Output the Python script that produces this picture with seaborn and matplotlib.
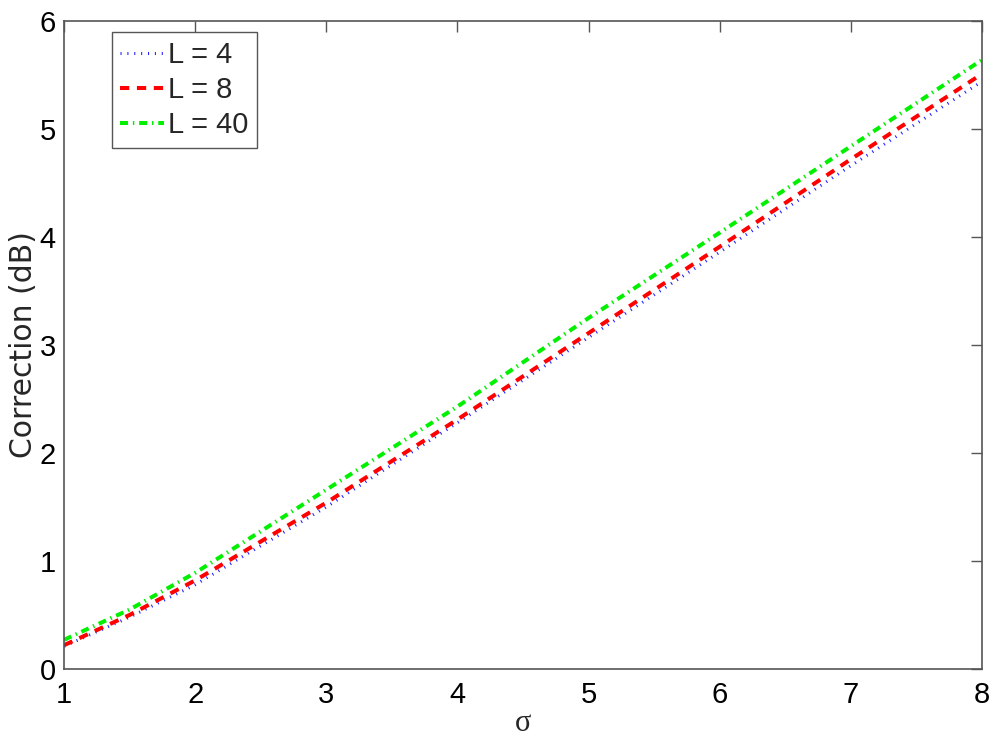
import matplotlib
matplotlib.use("Agg")
import matplotlib.pyplot as plt
import seaborn as sns
import numpy as np

sigma = [1.0, 1.5, 2.0, 3.0, 4.0, 5.0, 6.0, 7.0, 8.0]
corr_L4 = [0.21, 0.48, 0.78, 1.50, 2.28, 3.07, 3.86, 4.66, 5.44]
corr_L8 = [0.22, 0.50, 0.82, 1.54, 2.31, 3.11, 3.91, 4.72, 5.51]
corr_L40 = [0.27, 0.55, 0.89, 1.66, 2.43, 3.25, 4.04, 4.84, 5.64]
labels = ["L = 4", "L = 8", "L = 40"]
x_ticks = [1, 2, 3, 4, 5, 6, 7, 8]
y_ticks = [0, 1, 2, 3, 4, 5, 6]

sns.set_style("white")
plt.rcParams['font.family'] = ['Liberation Sans', 'DejaVu Sans']

fig = plt.figure(figsize=(10, 7.37), dpi=100)
ax = fig.add_axes([0.064, 0.0923, 0.918, 0.8792])

sns.lineplot(x=sigma, y=corr_L4, ax=ax, color='#2222ff', lw=2.2,
             linestyle=(0, (0.35, 1.9)), label=labels[0])
sns.lineplot(x=sigma, y=corr_L8, ax=ax, color='#ff0000', lw=2.9,
             linestyle=(0, (2.3, 1.9)), label=labels[1])
sns.lineplot(x=sigma, y=corr_L40, ax=ax, color='#00f000', lw=2.9,
             linestyle=(0, (2.0, 1.2, 0.35, 1.2)), label=labels[2])
for ln in ax.lines:
    ln.set_dash_capstyle('butt')

ax.set_xlim(1, 8)
ax.set_ylim(0, 6)
ax.set_xticks(x_ticks)
ax.set_yticks(y_ticks)
ax.tick_params(direction='in', length=8, width=1, color='#555555',
               labelsize=21, labelcolor='black', top=True, right=True)
ax.tick_params(axis='x', pad=9)
ax.tick_params(axis='y', pad=6)
for s in ax.spines.values():
    s.set_color('#555555')
    s.set_linewidth(1.2)

ax.set_xlabel('σ', fontsize=22, family=['Liberation Serif', 'DejaVu Serif'], labelpad=0)
ax.set_ylabel('Correction (dB)', fontsize=21.5, family=['DejaVu Sans'], labelpad=1)

leg = ax.legend(loc='upper left', bbox_to_anchor=(0.052, 0.983), fontsize=21,
                frameon=True, fancybox=False, framealpha=1, edgecolor='#555555',
                handlelength=1.5, handletextpad=0.12, borderpad=0.3,
                labelspacing=0.25, borderaxespad=0)
leg.get_frame().set_linewidth(1.0)

fig.savefig('out.png', dpi=100)
